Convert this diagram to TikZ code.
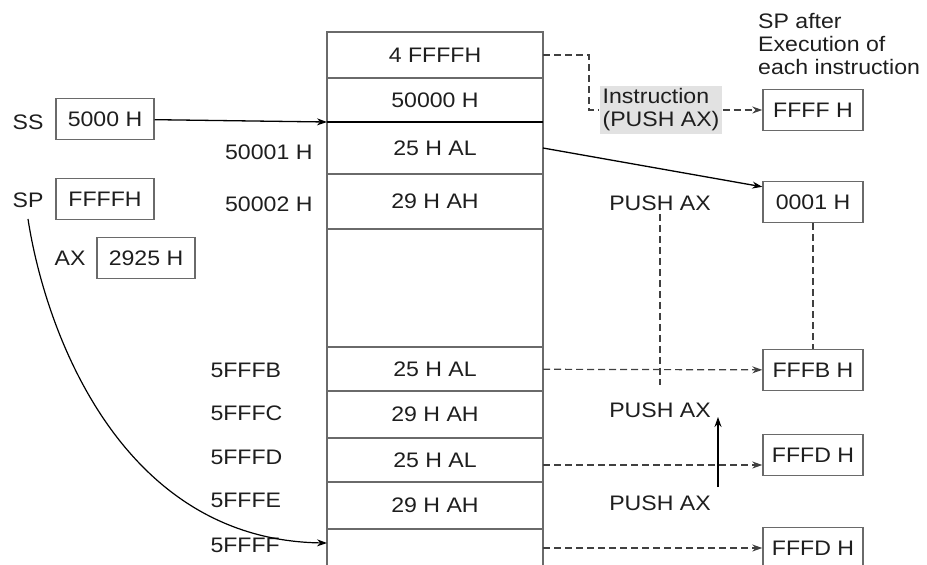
\documentclass[tikz,border=0pt]{standalone}
\usepackage{fontspec}
\setmainfont{Liberation Sans}[FakeStretch=1.1]
\usetikzlibrary{arrows.meta,positioning}
\definecolor{txt}{HTML}{1E1E1E}
\definecolor{edge}{HTML}{6A6A6A}
\definecolor{instrbg}{HTML}{E2E2E2}

\begin{document}
\begin{tikzpicture}[x=1pt,y=-1pt,
    every node/.style={text=txt,font=\fontsize{21}{23}\selectfont},
    cell/.style={draw=edge,line width=1.4pt,minimum width=216pt,inner sep=0pt,outer sep=0pt,anchor=north},
    reg/.style={draw=edge,line width=1.4pt,minimum width=100pt,minimum height=41pt,inner sep=0pt},
    tip/.style={-{Stealth[length=10pt,width=7pt]}},
    dline/.style={draw=txt!85,line width=1.2pt,dash pattern=on 7pt off 4pt}]
    \useasboundingbox (0,0) rectangle (927,565);
    \clip (0,0) rectangle (927,565);
    % memory column
    \node[cell,minimum height=46pt] (c0) at (435,32) {4 FFFFH};
    \node[cell,minimum height=44pt,below=0pt of c0] (c1) {50000 H};
    \node[cell,minimum height=52pt,below=0pt of c1] (c2) {25 H AL};
    \node[cell,minimum height=55pt,below=0pt of c2] (c3) {29 H AH};
    \node[cell,minimum height=118pt,below=0pt of c3] (c4) {};
    \node[cell,minimum height=44pt,below=0pt of c4] (c5) {25 H AL};
    \node[cell,minimum height=47pt,below=0pt of c5] (c6) {29 H AH};
    \node[cell,minimum height=44pt,below=0pt of c6] (c7) {25 H AL};
    \node[cell,minimum height=47pt,below=0pt of c7] (c8) {29 H AH};
    \node[cell,minimum height=50pt,below=0pt of c8] (c9) {};
    % addresses
    \node[anchor=east] (a1) at (316,152) {50001 H};
    \node[anchor=east] (a2) at (316,204) {50002 H};
    \node[anchor=west] (a3) at (207,370) {5FFFB};
    \node[anchor=west] (a4) at (207,413) {5FFFC};
    \node[anchor=west] (a5) at (207,457) {5FFFD};
    \node[anchor=west] (a6) at (207,500) {5FFFE};
    \node[anchor=west] (a7) at (207,545) {5FFFF};
    % registers
    \node (ss) at (28,122) {SS};
    \node[reg,minimum width=98pt] (ssreg) at (105,119) {5000 H};
    \node (sp) at (28,200) {SP};
    \node[reg,minimum width=98pt] (spreg) at (105,199) {FFFFH};
    \node (ax) at (70,258) {AX};
    \node[reg,minimum width=98pt] (axreg) at (146,258) {2925 H};
    % SP after each instruction
    \node[align=left,anchor=north west,inner sep=0pt] (title) at (758,13) {SP after\\Execution of\\each instruction};
    \node[fill=instrbg,align=left,inner sep=3pt] (instr) at (661,110) {Instruction\\(PUSH AX)};
    \node[reg] (spffff) at (813,110) {FFFF H};
    \node[reg] (sp0001) at (813,202) {0001 H};
    \node[reg] (spfffb) at (813,370) {FFFB H};
    \node[reg] (spfffd) at (813,455) {FFFD H};
    \node[reg] (spfffdb) at (813,548) {FFFD H};
    \node (push1) at (660,203) {PUSH AX};
    \node (push2) at (660,410) {PUSH AX};
    \node (push3) at (660,503) {PUSH AX};
    \coordinate (drop1) at (660,385);
    \coordinate (up0) at (718,487);
    \coordinate (up1) at (718,417);
    % connectors
    \draw[tip,line width=1.3pt] (ssreg) -- (c2.north west);
    \draw[line width=1.3pt] (c2.north west) -- (c2.north east);
    \draw[dline] (c0.east) -- ++(46,0) |- (instr.west);
    \draw[dline,tip] (instr) -- (spffff);
    \draw[tip,line width=1.3pt] (c2.east) -- ([yshift=-6pt]sp0001.north west);
    \draw[dline] (push1.south) -- (drop1);
    \draw[dline] (sp0001) -- (spfffb);
    \draw[dline,tip] (c5) -- (spfffb);
    \draw[dline,tip] ([yshift=-5pt]c7.east) -- ([yshift=-10pt]spfffd.west);
    \draw[dline,tip] ([yshift=6pt]c9.east) -- (spfffdb.west);
    \draw[tip,line width=1.3pt] (up0) -- (up1);
    \draw[tip,line width=1.2pt] ([yshift=-8pt]sp.south) .. controls (45,330) and (120,540) .. ([yshift=11pt]c9.west);
\end{tikzpicture}
\end{document}
